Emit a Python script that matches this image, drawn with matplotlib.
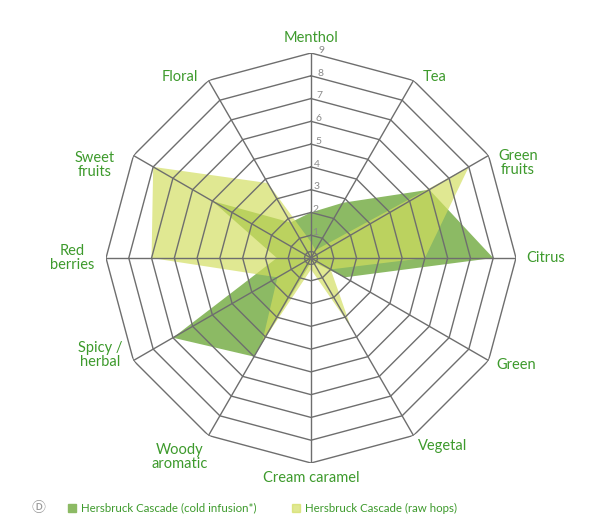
#!/usr/bin/env python3

import numpy as np
import matplotlib

matplotlib.use("Agg")
import matplotlib.pyplot as plt

CATEGORIES = [
    "Menthol", "Tea", "Green\nfruits", "Citrus", "Green", "Vegetal",
    "Cream caramel", "Woody\naromatic", "Spicy /\nherbal", "Red\nberries",
    "Sweet\nfruits", "Floral",
]
COLD_INFUSION = [2.0, 2.8, 6.0, 8.0, 1.7, 0.2, 0.2, 5.0, 7.0, 1.5, 5.0, 1.8]
RAW_HOPS = [0.7, 0.4, 8.0, 5.0, 1.0, 3.5, 0.5, 4.3, 1.7, 7.0, 8.0, 3.8]
SERIES_NAMES = ["Hersbruck Cascade (cold infusion*)", "Hersbruck Cascade (raw hops)"]
RING_TICKS = [1, 2, 3, 4, 5, 6, 7, 8, 9]

W, H = 610, 528
CX, CY, RPX = 311, 258, 205

# label centres in pixels (x, y from top)
LABEL_POS = [
    (311, 38), (435, 77), (518, 163), (546, 258), (516, 365), (443, 446),
    (311, 478), (180, 457), (100, 355), (72, 258), (95, 165), (180, 77),
]

DARK = "#8cba64"
LIGHT = "#d2de5e"
TEXT_GREEN = "#3d9a2c"
GRID = "#6e6e6e"


def px(x, y):
    return x / W, 1 - y / H


def closed(values):
    return list(values) + [values[0]]


def main() -> int:
    plt.rcParams["font.family"] = ["Lato", "DejaVu Sans"]
    fig = plt.figure(figsize=(W / 100, H / 100), dpi=100)
    rect = [(CX - RPX) / W, (H - CY - RPX) / H, 2 * RPX / W, 2 * RPX / H]
    ax = fig.add_axes(rect, projection="polar")
    ax.set_theta_zero_location("N")
    ax.set_theta_direction(-1)
    ax.set_ylim(0, 9)
    ax.grid(False)
    ax.spines["polar"].set_visible(False)
    ax.set_xticks([])
    ax.set_yticks([])
    ax.patch.set_alpha(0)

    n = len(CATEGORIES)
    angles = np.arange(n) * 2 * np.pi / n
    ang_c = closed(angles)

    ax.fill(ang_c, closed(COLD_INFUSION), color=DARK, lw=0, zorder=1)
    ax.fill(ang_c, closed(RAW_HOPS), color=LIGHT, alpha=0.68, lw=0, zorder=2)

    for r in RING_TICKS:
        ax.plot(ang_c, [r] * (n + 1), color=GRID, lw=1.0, zorder=3)
    circ = np.linspace(0, 2 * np.pi, 60)
    ax.plot(circ, [0.28] * len(circ), color=GRID, lw=1.0, zorder=3)
    for a in angles:
        ax.plot([a, a], [0, 9], color=GRID, lw=1.0, zorder=3)

    for r in RING_TICKS:
        ax.text(0.035, r + 0.12, str(r), color="#8a8a8a", fontsize=7.5,
                ha="left", va="center", zorder=4)

    for label, (x, y) in zip(CATEGORIES, LABEL_POS):
        fx, fy = px(x, y)
        fig.text(fx, fy, label, color=TEXT_GREEN, fontsize=10.5,
                 ha="center", va="center", linespacing=1.05)

    # legend row
    fx, fy = px(38, 508)
    fig.text(fx, fy, "\u24b9", color="#999999", fontsize=10, ha="center",
             va="center", family=["Noto Sans CJK JP", "DejaVu Sans"])
    for sx, color, alpha, name in [
        (72, DARK, 1.0, SERIES_NAMES[0]),
        (296, LIGHT, 0.68, SERIES_NAMES[1]),
    ]:
        fx, fy = px(sx - 4, 512)
        fig.patches.append(plt.Rectangle((fx, fy), 8 / W, 8 / H, color=color,
                                         alpha=alpha, transform=fig.transFigure,
                                         figure=fig))
        tx, ty = px(sx + 9, 508)
        fig.text(tx, ty, name, color=TEXT_GREEN, fontsize=8.3, ha="left",
                 va="center")

    fig.savefig("out.png", dpi=100, facecolor="white")
    plt.close(fig)
    return 0


if __name__ == "__main__":
    raise SystemExit(main())
